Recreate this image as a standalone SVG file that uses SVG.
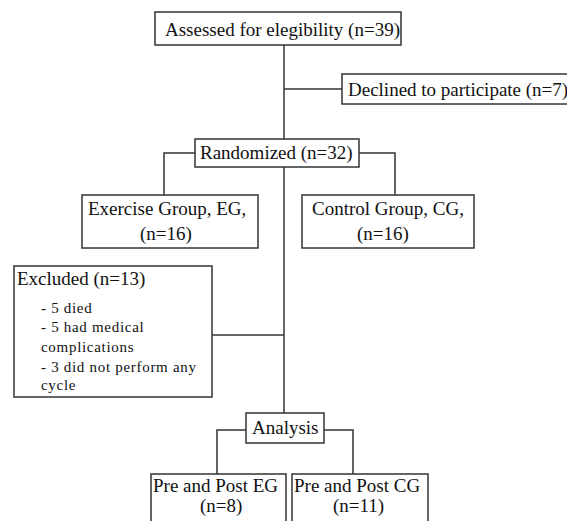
<svg xmlns="http://www.w3.org/2000/svg" width="567" height="521" viewBox="0 0 567 521" font-family="'Liberation Serif', 'Times New Roman', serif">
<style>
.box{fill:#fff;stroke:#333;stroke-width:1.5}
.ln{fill:none;stroke:#333;stroke-width:1.5}
text{font-family:'Liberation Serif','Times New Roman',serif;fill:#111}
.t{font-size:19px}
.s{font-size:15px;letter-spacing:0.7px}
</style>
<rect width="567" height="521" fill="#fff"/>
<g id="connectors">
<path class="ln" d="M284 45V139"/>
<path class="ln" d="M284 89H342"/>
<path class="ln" d="M195 153H164V195"/>
<path class="ln" d="M359 153H395V195"/>
<path class="ln" d="M284 167V413"/>
<path class="ln" d="M212 335H284"/>
<path class="ln" d="M246 430H217V474"/>
<path class="ln" d="M324 430H353V474"/>
</g>
<g id="assessed">
<rect class="box" x="155" y="12" width="246" height="33"/>
<text class="t" x="165" y="36">Assessed for elegibility (n=39)</text>
</g>
<g id="declined">
<rect class="box" x="342" y="74" width="240" height="30"/>
<text class="t" x="348" y="96">Declined to participate (n=7)</text>
</g>
<g id="randomized">
<rect class="box" x="195" y="139" width="164" height="28"/>
<text class="t" x="200" y="159">Randomized (n=32)</text>
</g>
<g id="exercise">
<rect class="box" x="82" y="195" width="176" height="53"/>
<text class="t" x="88" y="215">Exercise Group, EG,</text>
<text class="t" x="140" y="240">(n=16)</text>
</g>
<g id="control">
<rect class="box" x="302" y="195" width="172" height="53"/>
<text class="t" x="312" y="215">Control Group, CG,</text>
<text class="t" x="357" y="240">(n=16)</text>
</g>
<g id="excluded">
<rect class="box" x="14" y="266" width="198" height="131"/>
<text class="t" x="17" y="285">Excluded (n=13)</text>
<text class="s" x="41" y="313">- 5 died</text>
<text class="s" x="41" y="332">- 5 had medical</text>
<text class="s" x="41" y="352">complications</text>
<text class="s" x="41" y="372">- 3 did not perform any</text>
<text class="s" x="41" y="390">cycle</text>
</g>
<g id="analysis">
<rect class="box" x="246" y="413" width="78" height="30"/>
<text class="t" x="252" y="434">Analysis</text>
</g>
<g id="pre-post-eg">
<rect class="box" x="151" y="474" width="135" height="56"/>
<text class="t" x="153" y="492">Pre and Post EG</text>
<text class="t" x="200" y="512">(n=8)</text>
</g>
<g id="pre-post-cg">
<rect class="box" x="292" y="474" width="136" height="56"/>
<text class="t" x="294" y="492">Pre and Post CG</text>
<text class="t" x="333" y="512">(n=11)</text>
</g>
</svg>
